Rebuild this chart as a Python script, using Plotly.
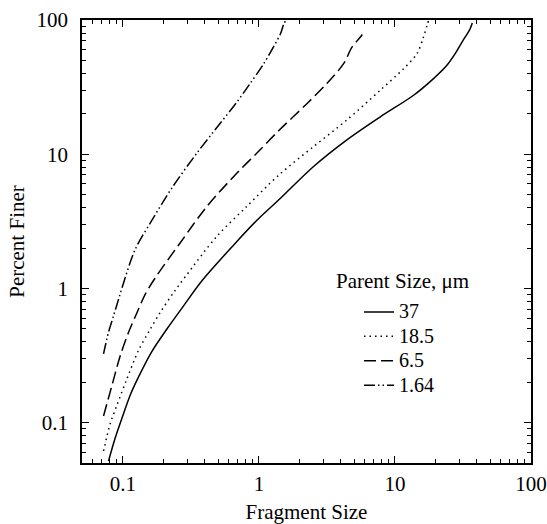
import plotly.graph_objects as go

# Cumulative fragment size distributions (percent finer vs fragment size)
# for four parent particle sizes, read as (fragment size, percent finer).
frag_37 = [0.0783, 0.0878, 0.0984, 0.113, 0.130, 0.163, 0.211, 0.279, 0.381,
           0.650, 0.966, 1.44, 2.52, 4.43, 7.8, 13.7, 19.2, 24.1, 27.7, 31.5, 35.5, 37.0]
finer_37 = [0.0516, 0.077, 0.108, 0.16, 0.218, 0.338, 0.50, 0.741, 1.14,
            2.1, 3.22, 4.7, 8.1, 12.8, 19.0, 27.5, 36.6, 46.0, 56.1, 70.0, 85.0, 95.0]

frag_18_5 = [0.072, 0.0807, 0.0904, 0.107, 0.130, 0.159, 0.188, 0.236, 0.287,
             0.491, 0.816, 1.40, 2.52, 4.43, 7.8, 11.6, 14.5, 16.2, 17.2, 17.7]
finer_18_5 = [0.0614, 0.0985, 0.135, 0.212, 0.344, 0.498, 0.662, 0.933, 1.22,
              2.45, 4.09, 7.0, 11.4, 18.0, 30.0, 43.5, 56.1, 74.6, 91.0, 100.0]

frag_6_5 = [0.072, 0.083, 0.0955, 0.11, 0.127, 0.146, 0.172, 0.264, 0.415,
            0.689, 0.966, 1.40, 2.26, 3.16, 4.19, 4.83, 5.57, 5.75]
finer_6_5 = [0.112, 0.189, 0.315, 0.471, 0.662, 0.906, 1.19, 2.19, 4.09,
             7.23, 10.2, 15.0, 23.9, 33.7, 47.3, 62.8, 74.6, 78.0]

frag_1_64 = [0.072, 0.0783, 0.0853, 0.0929, 0.1005, 0.123, 0.159, 0.229, 0.35,
             0.519, 0.689, 0.85, 1.08, 1.30, 1.44, 1.52, 1.58]
finer_1_64 = [0.325, 0.471, 0.625, 0.832, 1.08, 1.95, 3.08, 5.6, 10.2,
              17.0, 24.5, 33.0, 47.0, 65.0, 79.0, 93.0, 100.0]

series = [
    ("37", frag_37, finer_37, "solid"),
    ("18.5", frag_18_5, finer_18_5, "1.5px,4px"),
    ("6.5", frag_6_5, finer_6_5, "12px,5px"),
    ("1.64", frag_1_64, finer_1_64, "11px,3px,1.5px,3px,1.5px,3px"),
]

major_ticks = [0.1, 1, 10, 100]
major_labels = ["0.1", "1", "10", "100"]
minor_ticks = [m * d for d in (0.01, 0.1, 1, 10) for m in range(2, 10)]

FONT = "Liberation Serif"
TEXT_SIZE = 21

fig = go.Figure()
for name, xs, ys, dash in series:
    fig.add_trace(go.Scatter(
        x=xs, y=ys, mode="lines",
        # larger label text inside a compact legend row
        name=f'<span style="font-size:20px">{name}</span>',
        line=dict(color="black", width=1.5, dash=dash, shape="spline", smoothing=0.9),
    ))

axis_common = dict(
    type="log",
    automargin=False,
    showgrid=False,
    zeroline=False,
    showline=True,
    linecolor="black",
    linewidth=1.5,
    mirror="ticks",
    ticks="inside",
    ticklen=7,
    tickwidth=1,
    tickcolor="black",
    tickvals=major_ticks,
    ticktext=major_labels,
    tickfont=dict(family=FONT, size=TEXT_SIZE, color="black"),
    minor=dict(tickvals=minor_ticks, ticks="inside", ticklen=4,
               tickcolor="black", showgrid=False),
)

fig.update_xaxes(
    range=[-1.30103, 2],
    title=dict(text="Fragment Size", font=dict(family=FONT, size=TEXT_SIZE, color="black"),
               standoff=16),
    ticklabelstandoff=1,
    **axis_common,
)
fig.update_yaxes(
    range=[-1.30103, 2],
    title=dict(text="Percent Finer", font=dict(family=FONT, size=TEXT_SIZE, color="black"),
               standoff=6),
    ticklabelstandoff=8,
    **axis_common,
)

fig.add_annotation(
    text="Parent Size, \u03bcm", xref="paper", yref="paper",
    x=0.562, y=0.41, xanchor="left", yanchor="middle", showarrow=False,
    font=dict(family=FONT, size=TEXT_SIZE, color="black"),
)

fig.update_layout(
    width=547, height=524,
    margin=dict(l=82, r=16, t=20, b=61),
    paper_bgcolor="white", plot_bgcolor="white",
    showlegend=True,
    legend=dict(
        x=0.617, y=0.380, xanchor="left", yanchor="top",
        bgcolor="rgba(0,0,0,0)", borderwidth=0,
        font=dict(family=FONT, size=16.5, color="black"),
        tracegroupgap=0, itemwidth=30,
    ),
)

fig.write_html("out.html")
